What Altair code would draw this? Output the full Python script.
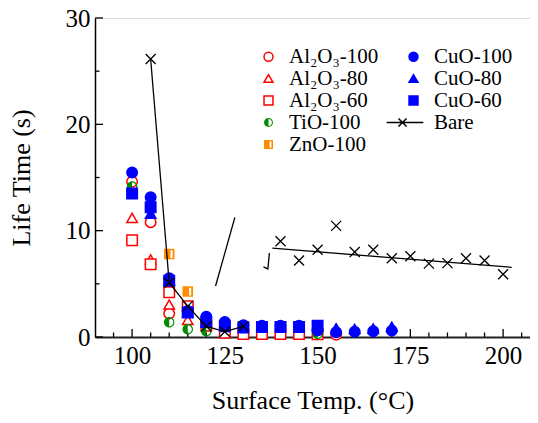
import altair as alt
import pandas as pd

# ---------------- data ----------------
al100_t = [100, 105, 110, 155]
al100_v = [14.6, 10.8, 2.2, 0.2]
al80_t = [100, 105, 110, 115]
al80_v = [11.2, 7.3, 3.05, 1.6]
al60_t = [100, 105, 110, 115, 120, 125, 130, 135, 140, 145, 150]
al60_v = [9.1, 6.85, 4.2, 2.9, 1.05, 0.4, 0.28, 0.28, 0.28, 0.28, 0.25]
tio_t = [100, 110, 115, 120, 150]
tio_v = [14.15, 1.38, 0.72, 0.55, 0.3]
zno_t = [110, 115]
zno_v = [7.8, 4.27]
cuo100_t = [100, 105, 110, 115, 120, 125, 130, 135, 140, 145, 150, 155, 160, 165, 170]
cuo100_v = [15.46, 13.14, 5.52, 2.45, 1.9, 1.4, 1.1, 1.05, 1.05, 1.05, 0.6, 0.45, 0.5, 0.55, 0.6]
cuo80_t = [105, 110, 115, 155, 160, 165, 170]
cuo80_v = [11.6, 5.3, 2.3, 0.82, 0.75, 0.8, 0.97]
cuo60_t = [100, 105, 110, 115, 120, 125, 130, 135, 140, 145, 150]
cuo60_v = [13.5, 12.2, 5.3, 2.3, 1.4, 1.0, 0.9, 0.95, 0.95, 0.95, 1.05]

bare_t = [105, 110, 115, 120, 125, 130, 140, 145, 150, 155, 160, 165, 170, 175, 180, 185, 190, 195, 200]
bare_v = [26.15, 5.1, 2.9, 1.0, 0.5, 1.0, 9.0, 7.2, 8.2, 10.45, 8.0, 8.2, 7.4, 7.6, 6.9, 6.95, 7.4, 7.2, 5.9]
bare_line_n = 6  # first points joined by the line
trend_t = [137.8, 202.3]
trend_v = [8.35, 6.55]
stray1_t = [122.5, 127.7]
stray1_v = [4.8, 11.25]
stray2_t = [135.4, 137.0, 136.6]
stray2_v = [6.6, 7.9, 6.4]

x_major = [100, 125, 150, 175, 200]
x_minor = [95, 105, 110, 115, 120, 130, 135, 140, 145, 155, 160, 165, 170, 180, 185, 190, 195, 205]
y_major = [0, 10, 20, 30]
y_minor = [5, 15, 25]

# legend order (column-major, 2 columns)
names = ["Al₂O₃-100", "Al₂O₃-80", "Al₂O₃-60", "TiO-100", "ZnO-100",
         "CuO-100", "CuO-80", "CuO-60", "Bare"]

# ---------------- styling ----------------
W, H = 435, 319
FONT = "Liberation Serif"
RED, BLUE, GREEN, ORANGE = "#ff0000", "#0000ff", "#008c00", "#ff8c00"

TIO_PATH = ("M0,-1A1,1,0,1,1,0,1A1,1,0,1,1,0,-1Z "
            "M0,-0.78A0.78,0.78,0,1,0,0,0.78A0.78,0.78,0,1,0,0,-0.78Z "
            "M0,-0.78A0.78,0.78,0,0,0,0,0.78Z")
ZNO_PATH = "M-1,-1L1,-1L1,1L-1,1Z M0.25,-0.75L0.25,0.75L0.65,0.75L0.65,-0.75Z"
BARE_LEG = "M-6,0L2.2,0M-3.36,-0.9L-1.56,0.9M-3.36,0.9L-1.56,-0.9"
XPATH = "M-1,-1L1,1M-1,1L1,-1"

shapes = ["circle", "triangle-up", "square", TIO_PATH, ZNO_PATH,
          "circle", "triangle-up", "square", BARE_LEG]
strokes = [RED, RED, RED, "transparent", "transparent", BLUE, BLUE, BLUE, "black"]
fills = ["white", "white", "white", GREEN, ORANGE, BLUE, BLUE, BLUE, "transparent"]

rows = []
for nm, ts, vs in [(names[0], al100_t, al100_v), (names[1], al80_t, al80_v),
                   (names[2], al60_t, al60_v), (names[3], tio_t, tio_v),
                   (names[4], zno_t, zno_v), (names[5], cuo100_t, cuo100_v),
                   (names[6], cuo80_t, cuo80_v), (names[7], cuo60_t, cuo60_v)]:
    rows += [{"series": nm, "t": t, "v": v} for t, v in zip(ts, vs)]
pts = pd.DataFrame(rows)

bare = pd.DataFrame({"t": bare_t, "v": bare_v})
bare_line = bare.iloc[:bare_line_n]
trend = pd.DataFrame({"t": trend_t, "v": trend_v})
stray = pd.DataFrame({"t": stray1_t + stray2_t, "v": stray1_v + stray2_v,
                      "g": [1] * len(stray1_t) + [2] * len(stray2_t)})

xscale = alt.Scale(domain=[90, 207.25], nice=False, zero=False)
yscale = alt.Scale(domain=[0, 30], nice=False)
xaxis = alt.Axis(values=x_major, ticks=False, tickSize=0, grid=False, format="d",
                 domainColor="#222", domainWidth=2, labelFont=FONT, labelFontSize=25,
                 labelColor="black", labelPadding=6, title="Surface Temp. (°C)",
                 titleFont=FONT, titleFontSize=26, titleFontWeight="normal",
                 titleColor="black", titlePadding=19)
yaxis = alt.Axis(values=y_major, ticks=False, tickSize=0, grid=False, format="d",
                 domainColor="black", domainWidth=1.5, labelFont=FONT, labelFontSize=25,
                 labelColor="black", labelPadding=5, title="Life Time (s)",
                 titleFont=FONT, titleFontSize=26, titleFontWeight="normal",
                 titleColor="black", titlePadding=31)


def X(f="t:Q"):
    return alt.X(f, scale=xscale, axis=xaxis)


def Y(f="v:Q"):
    return alt.Y(f, scale=yscale, axis=yaxis)


legend = alt.Legend(title=None, orient="none", legendX=163, legendY=28, columns=2,
                    direction="vertical", padding=0, rowPadding=0, columnPadding=4,
                    labelFont=FONT, labelFontSize=21, labelColor="black", labelOffset=10,
                    labelLimit=0, symbolSize=80, symbolStrokeWidth=1.5)

points = alt.Chart(pts).mark_point(size=110, strokeWidth=1.5, opacity=1, fillOpacity=1).encode(
    x=X(), y=Y(),
    shape=alt.Shape("series:N", scale=alt.Scale(domain=names, range=shapes), legend=legend),
    stroke=alt.Stroke("series:N", scale=alt.Scale(domain=names, range=strokes), legend=legend),
    fill=alt.Fill("series:N", scale=alt.Scale(domain=names, range=fills), legend=legend),
)

line1 = alt.Chart(bare_line).mark_line(color="black", strokeWidth=1.3).encode(x=X(), y=Y())
line2 = alt.Chart(trend).mark_line(color="black", strokeWidth=1.3).encode(x=X(), y=Y())
line3 = alt.Chart(stray).mark_line(color="black", strokeWidth=1.3).encode(
    x=X(), y=Y(), detail="g:N")
crosses = alt.Chart(bare).mark_point(shape=XPATH, size=100, strokeWidth=1.3, color="black",
                                     filled=False, opacity=1).encode(x=X(), y=Y())

xt_major = alt.Chart(pd.DataFrame({"t": x_major})).mark_rule(color="black", strokeWidth=1.3).encode(
    x=X(), y=alt.value(H), y2=alt.value(H - 8))
xt_minor = alt.Chart(pd.DataFrame({"t": x_minor})).mark_rule(color="black", strokeWidth=1.3).encode(
    x=X(), y=alt.value(H), y2=alt.value(H - 4.5))
yt_major = alt.Chart(pd.DataFrame({"v": y_major})).mark_rule(color="black", strokeWidth=1.3).encode(
    y=Y(), x=alt.value(0), x2=alt.value(8))
yt_minor = alt.Chart(pd.DataFrame({"v": y_minor})).mark_rule(color="black", strokeWidth=1.3).encode(
    y=Y(), x=alt.value(0), x2=alt.value(4.5))

chart = alt.layer(xt_major, xt_minor, yt_major, yt_minor, points, line1, line2, line3, crosses).properties(
    width=W, height=H,
    autosize=alt.AutoSizeParams(type="none"),
    padding={"left": 87, "top": 10, "right": 0, "bottom": 78},
).configure_view(stroke=None).configure(background="white")

chart.save("out.html", embed_options={"renderer": "svg", "actions": False})
